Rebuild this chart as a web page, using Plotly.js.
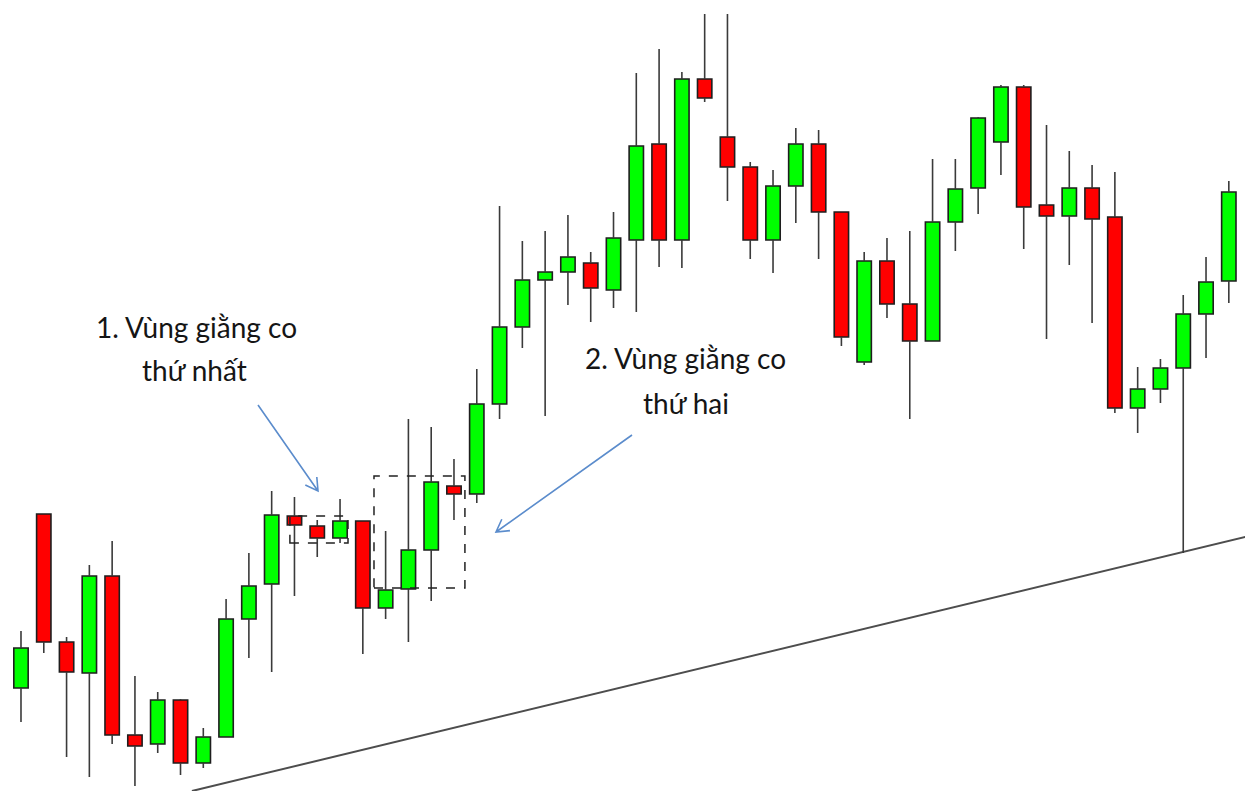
<!DOCTYPE html>
<html><head><meta charset="utf-8">
<script src="https://cdn.plot.ly/plotly-3.0.1.min.js"></script>
<style>html,body{margin:0;padding:0;background:#fff;overflow:hidden}#chart{width:1245px;height:791px}</style>
</head><body><div id="chart"></div>
<script>
// candle index (session number)
const candleIndex = [1,2,3,4,5,6,7,8,9,10,11,12,13,14,15,16,17,18,19,20,21,22,23,24,25,26,27,28,29,30,31,32,33,34,35,36,37,38,39,40,41,42,43,44,45,46,47,48,49,50,51,52,53,54];
const openPrices  = [103,277,149,118,215,56,47,91,28,54,172,207,275,265,253,270,183,202,241,305,297,387,464,511,519,528,501,551,647,551,712,654,624,551,605,647,579,429,530,487,450,569,603,649,704,586,575,603,574,383,402,423,477,510];
const highPrices  = [160,277,154,226,250,115,99,92,63,192,238,300,294,271,292,270,260,372,364,332,422,585,550,560,576,539,579,718,742,719,777,777,629,621,663,661,579,539,553,560,632,632,674,706,706,666,640,626,619,424,432,496,534,610];
const lowPrices   = [69,138,34,14,47,5,38,16,23,54,133,119,195,234,248,137,172,149,190,271,288,372,443,375,486,469,483,479,524,523,689,590,532,518,568,532,445,426,473,372,450,540,577,616,542,452,526,468,378,358,388,238,433,488];
const closePrices = [143,149,119,215,56,45,91,28,54,172,205,276,266,253,270,183,201,241,309,297,387,464,511,519,534,503,553,645,551,712,693,624,551,605,647,579,454,530,487,450,569,602,673,704,584,575,603,572,383,402,423,477,509,599];
// support trendline end points
const trendX = [8.5, 56];
const trendY = [0, 261];
// annotation labels
const label1 = ["1. Vùng giằng co", "thứ nhất"];
const label2 = ["2. Vùng giằng co", "thứ hai"];

const W = 1245, H = 791;
const UP = '#00ff00', DOWN = '#ff0000';

const bodyBase = [], bodyLen = [], bodyColor = [];
const wx = [], wy = [];
candleIndex.forEach((x, i) => {
  const o = openPrices[i], c = closePrices[i];
  const top = Math.max(o, c), bot = Math.min(o, c);
  bodyBase.push(bot);
  bodyLen.push(Math.max(top - bot, 1));
  bodyColor.push(c >= o ? UP : DOWN);
  if (highPrices[i] > top) { wx.push(x, x, null); wy.push(top, highPrices[i], null); }
  if (lowPrices[i] < bot) { wx.push(x, x, null); wy.push(bot, lowPrices[i], null); }
});

const traces = [
  {type: 'scatter', mode: 'lines', x: trendX, y: trendY,
   line: {color: '#4d4d4d', width: 2}, hoverinfo: 'skip'},
  {type: 'bar', x: candleIndex, base: bodyBase, y: bodyLen, width: 0.63,
   marker: {color: bodyColor, line: {color: '#1e1e1e', width: 1.6}}, hoverinfo: 'skip'},
  {type: 'scatter', mode: 'lines', x: wx, y: wy, connectgaps: false,
   line: {color: '#3a3a3a', width: 1.6}, hoverinfo: 'skip'}
];

function P(px, py) { return (px / W).toFixed(5) + ',' + (1 - py / H).toFixed(5); }
function arrow(tx, ty, hx, hy) {
  const dx = hx - tx, dy = hy - ty, L = Math.hypot(dx, dy);
  const ux = -dx / L, uy = -dy / L, a = Math.PI / 6, len = 14;
  const r1 = [ux * Math.cos(a) - uy * Math.sin(a), ux * Math.sin(a) + uy * Math.cos(a)];
  const r2 = [ux * Math.cos(a) + uy * Math.sin(a), -ux * Math.sin(a) + uy * Math.cos(a)];
  return {type: 'path', xref: 'paper', yref: 'paper',
    path: 'M' + P(tx, ty) + 'L' + P(hx, hy) +
          'M' + P(hx + r1[0] * len, hy + r1[1] * len) + 'L' + P(hx, hy) +
          'L' + P(hx + r2[0] * len, hy + r2[1] * len),
    line: {color: '#5b8ccc', width: 1.6}};
}

const font = {family: 'Lato, "Open Sans", sans-serif', size: 28, color: '#151515'};
function lbl(text, px, py) {
  return {xref: 'paper', yref: 'paper', x: px / W, y: 1 - py / H, text: text,
          showarrow: false, xanchor: 'center', yanchor: 'middle', font: font};
}

const layout = {
  width: W, height: H, margin: {l: 0, r: 0, t: 0, b: 0},
  paper_bgcolor: '#ffffff', plot_bgcolor: '#ffffff', showlegend: false,
  xaxis: {range: [0.079, 54.71], visible: false, fixedrange: true},
  yaxis: {range: [0, 791], visible: false, fixedrange: true},
  shapes: [
    {type: 'rect', xref: 'x', yref: 'y', x0: 12.80, x1: 15.35, y0: 248, y1: 275,
     line: {color: '#222', width: 1.5, dash: 'dash'}},
    {type: 'rect', xref: 'x', yref: 'y', x0: 16.49, x1: 20.48, y0: 203, y1: 315,
     line: {color: '#222', width: 1.5, dash: 'dash'}},
    arrow(258, 405, 318, 491),
    arrow(632, 435, 496, 532)
  ],
  annotations: [
    lbl(label1[0], 196, 327), lbl(label1[1], 194, 370),
    lbl(label2[0], 686, 358), lbl(label2[1], 686, 403)
  ]
};
Plotly.newPlot('chart', traces, layout, {staticPlot: true});
</script></body></html>
